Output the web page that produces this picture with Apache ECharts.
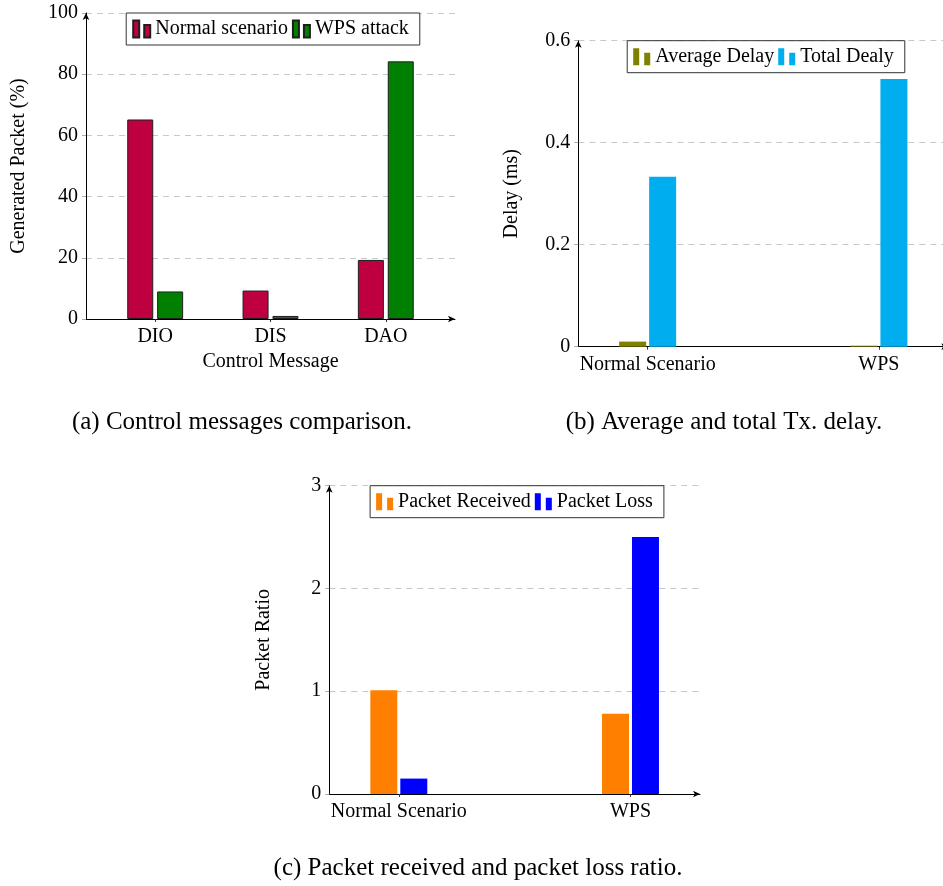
<!DOCTYPE html>
<html>
<head>
<meta charset="utf-8">
<script src="https://cdn.jsdelivr.net/npm/echarts@6/dist/echarts.min.js"></script>
<style>
  html, body { margin: 0; padding: 0; background: #fff; width: 943px; height: 886px; overflow: hidden; position: relative; }
  .panel { position: absolute; }
</style>
</head>
<body>
<div id="panelA" class="panel" style="left:0;top:0;width:541px;height:450px"></div>
<div id="panelB" class="panel" style="left:490px;top:0;width:547px;height:450px"></div>
<div id="panelC" class="panel" style="left:240px;top:450px;width:549px;height:436px"></div>
<script>
// (a) control messages, share of generated packets (%)
const controlCategories = ['DIO', 'DIS', 'DAO'];
const normalScenarioPct = [65.2, 9.3, 19.3];
const wpsAttackPct = [9.0, 1.0, 84.2];

// (b) transmission delay (ms)
const scenarioCategories = ['Normal Scenario', 'WPS'];
const averageDelayMs = [0.01, 0.002];
const totalDelayMs = [0.333, 0.525];

// (c) packet ratios
const packetReceivedRatio = [1.01, 0.78];
const packetLossRatio = [0.15, 2.5];

const FONT = 'Liberation Serif';
const GRID_LINE = { type: [6, 5], color: '#c8c8c8', width: 1 };
const LEGEND_ICON = 'path://M0,0h6v17h-6z M11,4.5h6v12.5h-6z';

function buildPanel(elId, cfg) {
  const chart = echarts.init(document.getElementById(elId), null, { renderer: 'canvas' });
  const idx = cfg.categories.map((_, i) => i);
  const txt = { fontFamily: FONT, fontSize: 20, color: '#000' };
  chart.setOption({
    animation: false,
    textStyle: { fontFamily: FONT },
    grid: {
      left: cfg.grid[0], top: cfg.grid[1], width: cfg.grid[2], height: cfg.grid[3],
      containLabel: false, outerBoundsMode: 'none'
    },
    legend: {
      left: 'center', top: cfg.grid[1],
      selectedMode: false,
      icon: LEGEND_ICON, itemWidth: 17, itemHeight: 17, itemGap: 4,
      padding: [6, 11, 6, 6],
      borderColor: '#333', borderWidth: 1, borderRadius: 0,
      backgroundColor: '#fff',
      textStyle: txt,
      data: cfg.series.map(s => s.name)
    },
    xAxis: {
      type: 'value',
      min: -cfg.pad, max: cfg.categories.length - 1 + cfg.pad,
      name: cfg.xName || '', nameLocation: 'middle', nameGap: 31,
      nameTextStyle: txt,
      axisLine: { show: true, onZero: false, lineStyle: { color: '#000', width: 1 },
                  symbol: ['none', 'arrow'], symbolSize: [5, 7] },
      axisTick: { show: true, customValues: idx, length: 3, lineStyle: { color: '#333' } },
      axisLabel: { customValues: idx, margin: 8, ...txt,
                   formatter: v => cfg.categories[Math.round(v)] },
      splitLine: { show: false }
    },
    yAxis: {
      type: 'value', min: 0, max: cfg.yMax, interval: cfg.yStep,
      name: cfg.yName, nameLocation: 'middle', nameGap: cfg.yNameGap,
      nameTextStyle: txt,
      axisLine: { show: true, onZero: false, lineStyle: { color: '#000', width: 1 },
                  symbol: ['none', 'arrow'], symbolSize: [5, 7] },
      axisTick: { show: true, length: 4, lineStyle: { color: '#aaa' } },
      axisLabel: { margin: 8, ...txt },
      splitLine: { show: true, lineStyle: GRID_LINE }
    },
    graphic: [{
      type: 'text', x: cfg.caption.x, y: cfg.caption.y,
      style: { text: cfg.caption.text, font: '25px "Liberation Serif"', fill: '#000',
               textAlign: 'center', textVerticalAlign: 'middle' }
    }],
    series: cfg.series.map(s => ({
      type: 'bar', name: s.name,
      data: s.values.map((v, i) => [i, v]),
      barWidth: cfg.barWidth, barGap: cfg.barGap,
      itemStyle: cfg.outline
        ? { color: s.color, borderColor: '#1e1e1e', borderWidth: 1 }
        : { color: s.color, borderWidth: 0 }
    }))
  });
  return chart;
}

buildPanel('panelA', {
  categories: controlCategories, pad: 0.6,
  grid: [86, 13, 369, 306],
  yMax: 100, yStep: 20, yName: 'Generated Packet (%)', yNameGap: 57,
  xName: 'Control Message',
  barWidth: 26, barGap: '15%', outline: true,
  caption: { x: 242, y: 422, text: '(a) Control messages comparison.' },
  series: [
    { name: 'Normal scenario', values: normalScenarioPct, color: '#bf0040' },
    { name: 'WPS attack', values: wpsAttackPct, color: '#007f00' }
  ]
});

buildPanel('panelB', {
  categories: scenarioCategories, pad: 0.3,
  grid: [88.3, 40.7, 370, 306],
  yMax: 0.6, yStep: 0.2, yName: 'Delay (ms)', yNameGap: 56.5,
  barWidth: 27, barGap: '11%', outline: false,
  caption: { x: 234, y: 422, text: '(b) Average and total Tx. delay.' },
  series: [
    { name: 'Average Delay', values: averageDelayMs, color: '#808000' },
    { name: 'Total Dealy', values: totalDelayMs, color: '#00aeef' }
  ]
});

buildPanel('panelC', {
  categories: scenarioCategories, pad: 0.3,
  grid: [89.3, 35.7, 370.7, 308.3],
  yMax: 3, yStep: 1, yName: 'Packet Ratio', yNameGap: 56,
  barWidth: 27, barGap: '11%', outline: false,
  caption: { x: 238, y: 418, text: '(c) Packet received and packet loss ratio.' },
  series: [
    { name: 'Packet Received', values: packetReceivedRatio, color: '#ff8000' },
    { name: 'Packet Loss', values: packetLossRatio, color: '#0000ff' }
  ]
});
</script>
</body>
</html>
